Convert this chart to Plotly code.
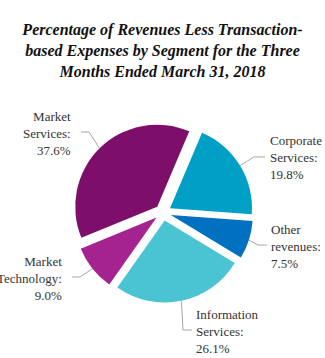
import numpy as np
import plotly.graph_objects as go

# ---------------- data ----------------
categories = ["Corporate Services", "Other revenues", "Information Services",
              "Market Technology", "Market Services"]
label_text = ["Corporate<br>Services:<br>19.8%", "Other<br>revenues:<br>7.5%",
              "Information<br>Services:<br>26.1%", "Market<br>Technology:<br>9.0%",
              "Market<br>Services:<br>37.6%"]
shares = [19.8, 7.5, 26.1, 9.0, 37.6]
colors = ["#00A0C6", "#0070C0", "#4AC3D3", "#A5238F", "#7D0F6B"]

# ---------------- layout constants ----------------
W, H = 325, 358
ROT = 23.0
PULL = 0.1
DX0, DX1, DY0, DY1 = 72.8, 253.2, 122.3, 302.7   # pie domain in pixels
# label placement: (anchor side, text x, text middle y, line end x, elbow x)
label_pos = [
    ("left", 268, 158, 265, 254),
    ("left", 269, 246, 267, 258),
    ("left", 194, 331, 192, 183),
    ("right", 64, 278, 72, 80),
    ("right", 73, 133, 81, 89),
]

fig = go.Figure(go.Pie(
    labels=categories, values=shares, sort=False, direction="clockwise",
    rotation=ROT, pull=[PULL] * len(shares), textinfo="none", hoverinfo="label+percent",
    marker=dict(colors=colors, line=dict(width=0)),
    domain=dict(x=[DX0 / W, DX1 / W], y=[1 - DY1 / H, 1 - DY0 / H]),
    showlegend=False,
))

# geometry derived from the data for leader-line tips
cx, cy = (DX0 + DX1) / 2, (DY0 + DY1) / 2
r = min(DX1 - DX0, DY1 - DY0) / 2 / (1 + PULL)
total = sum(shares)
start = ROT
shapes, annots = [], []
for i, v in enumerate(shares):
    span = v / total * 360
    mid = np.radians(start + span / 2)
    start += span
    pcx = cx + PULL * r * np.sin(mid)
    pcy = cy - PULL * r * np.cos(mid)
    tx = pcx + r * np.sin(mid)
    ty = pcy - r * np.cos(mid)
    side, lx, ly, ex, elx = label_pos[i]
    liney = ly - 1
    path = "M {:.4f},{:.4f} L {:.4f},{:.4f} L {:.4f},{:.4f}".format(
        tx / W, 1 - ty / H, elx / W, 1 - liney / H, ex / W, 1 - liney / H)
    shapes.append(dict(type="path", xref="paper", yref="paper", path=path,
                       line=dict(color="#A6A6A6", width=1)))
    annots.append(dict(text=label_text[i], x=lx / W, y=1 - ly / H, xref="paper", yref="paper",
                       xanchor=side, yanchor="middle", align=side, showarrow=False,
                       font=dict(family="Liberation Serif", size=13, color="#333333")))

fig.update_layout(
    width=W, height=H, margin=dict(l=0, r=0, t=0, b=0),
    paper_bgcolor="white", plot_bgcolor="white",
    title=dict(text="<b><i>Percentage of Revenues Less Transaction-<br>based Expenses by Segment for the Three<br>Months Ended March 31, 2018</i></b>",
               x=0.5, xanchor="center", y=1 - 35 / H, yanchor="top", yref="container",
               font=dict(family="Liberation Serif", size=16, color="#111111")),
    shapes=shapes, annotations=annots,
)

fig.write_html("out.html")
